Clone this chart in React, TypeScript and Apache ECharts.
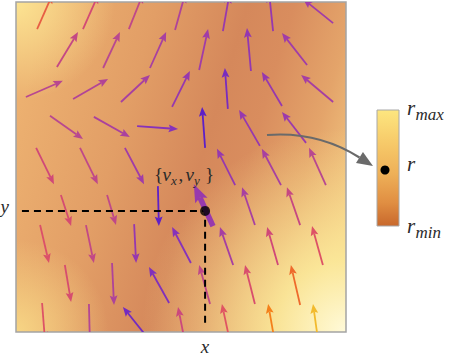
import React, { useEffect, useRef } from 'react';
import * as echarts from 'echarts';

// ---------- data (plot domain 0..10 × 0..10, y up) ----------
// each arrow: [tailX, tailY, headX, headY, magnitude]
const arrowsRowA = [
  [0.64, 9.18, 1.11, 10.24, 0.66],
  [2.03, 9.18, 2.5, 10.24, 0.52],
  [3.42, 9.18, 3.85, 10.25, 0.43],
  [4.82, 9.15, 5.13, 10.26, 0.36],
  [6.27, 9.12, 6.47, 10.25, 0.27],
  [7.79, 9.12, 7.67, 10.27, 0.26],
  [9.61, 9.36, 8.7, 10.09, 0.3],
];
const arrowsRowB = [
  [1.24, 8.03, 1.88, 9.09, 0.45],
  [2.64, 8.0, 3.15, 9.09, 0.4],
  [4.06, 8.0, 4.55, 9.09, 0.33],
  [5.55, 7.94, 5.82, 9.18, 0.3],
  [7.12, 7.91, 7.0, 9.21, 0.25],
  [8.82, 8.09, 8.06, 9.06, 0.3],
];
const arrowsRowC = [
  [0.3, 7.12, 1.42, 7.61, 0.4],
  [1.73, 7.06, 2.79, 7.67, 0.37],
  [3.18, 6.97, 4.06, 7.79, 0.33],
  [4.73, 6.82, 5.27, 7.91, 0.26],
  [6.42, 6.76, 6.33, 8.0, 0.15],
  [8.06, 6.85, 7.45, 7.88, 0.26],
  [9.61, 6.97, 8.64, 7.79, 0.32],
];
const arrowsRowD = [
  [1.03, 6.55, 2.03, 5.85, 0.4],
  [2.36, 6.52, 3.45, 5.91, 0.34],
  [3.67, 6.24, 4.91, 6.15, 0.2],
  [5.73, 5.58, 5.64, 6.82, 0.05],
  [7.39, 5.64, 6.76, 6.73, 0.26],
  [8.79, 5.73, 8.06, 6.67, 0.28],
];
const arrowsRowE = [
  [0.61, 5.58, 1.15, 4.48, 0.5],
  [1.94, 5.58, 2.48, 4.48, 0.43],
  [3.3, 5.58, 3.88, 4.48, 0.3],
  [6.64, 4.45, 6.09, 5.55, 0.26],
  [8.03, 4.45, 7.45, 5.55, 0.33],
  [9.39, 4.45, 8.88, 5.58, 0.4],
];
const arrowsRowF = [
  [1.36, 4.15, 1.67, 3.21, 0.53],
  [2.76, 4.15, 3.03, 3.24, 0.43],
  [4.3, 4.42, 4.33, 3.21, 0.06],
  [7.24, 3.24, 6.85, 4.39, 0.33],
  [8.61, 3.24, 8.21, 4.39, 0.46],
];
const arrowsRowG = [
  [0.73, 3.24, 1.0, 2.09, 0.57],
  [2.12, 3.24, 2.36, 2.09, 0.44],
  [3.58, 3.27, 3.64, 2.09, 0.26],
  [5.3, 2.09, 4.73, 3.18, 0.2],
  [6.58, 2.03, 6.18, 3.18, 0.32],
  [7.94, 2.03, 7.61, 3.18, 0.5],
  [9.3, 2.03, 8.97, 3.21, 0.58],
];
const arrowsRowH = [
  [1.48, 2.03, 1.67, 0.91, 0.54],
  [2.91, 2.09, 2.97, 0.82, 0.36],
  [4.64, 0.88, 4.03, 1.97, 0.18],
  [5.88, 0.85, 5.55, 2.03, 0.43],
  [7.24, 0.85, 6.94, 2.03, 0.55],
  [8.61, 0.82, 8.33, 2.03, 0.72],
];
const arrowsRowI = [
  [0.79, 0.88, 0.88, -0.27, 0.58],
  [2.21, 0.85, 2.24, -0.3, 0.38],
  [3.96, -0.14, 3.24, 0.76, 0.13],
  [5.13, -0.36, 4.91, 0.76, 0.48],
  [6.48, -0.27, 6.24, 0.85, 0.6],
  [7.84, -0.28, 7.64, 0.85, 0.8],
  [9.16, -0.29, 9.0, 0.85, 0.95],
];
const highlightArrow = [[5.97, 3.21, 5.39, 4.48, 0.27]];

const pointX = 5.73;
const pointY = 3.67;
const dashedPath = [
  [0.18, pointY],
  [pointX, pointY],
  [pointX, 0.21],
];

const magnitudeColors = [
  '#4e18cc', '#6a26c4', '#8632ba', '#a03ca8', '#b84890', '#d04878',
  '#e05462', '#ec6430', '#f4801a', '#f2a824', '#f2cc36',
];

const legendSubs = ['max', 'min'];

// ---------- layout ----------
const GL = 16, GT = 2, GW = 330, GH = 330;
const SERIF = 'Liberation Serif, serif';
const TXT = '#2a2a2a';

function arrowRenderer(thick: boolean) {
  return (params: any, api: any) => {
    const p0 = api.coord([api.value(0), api.value(1)]);
    const p1 = api.coord([api.value(2), api.value(3)]);
    const color = api.visual('color');
    const dx = p1[0] - p0[0], dy = p1[1] - p0[1];
    const L = Math.hypot(dx, dy) || 1;
    const ux = dx / L, uy = dy / L;
    const hl = thick ? 18 : 9.5;
    const hw = thick ? 6.8 : 3.9;
    const lw = thick ? 5.5 : 1.8;
    const notch = hl * 0.82;
    const bx = p1[0] - ux * hl, by = p1[1] - uy * hl;
    const nx = p1[0] - ux * notch, ny = p1[1] - uy * notch;
    return {
      type: 'group',
      children: [
        {
          type: 'line',
          shape: { x1: p0[0], y1: p0[1], x2: nx, y2: ny },
          style: { stroke: color, lineWidth: lw },
        },
        {
          type: 'polygon',
          shape: {
            points: [
              [p1[0], p1[1]],
              [bx - uy * hw, by + ux * hw],
              [nx, ny],
              [bx + uy * hw, by - ux * hw],
            ],
          },
          style: { fill: color },
        },
      ],
    };
  };
}

function txt(text: string, x: number, baseline: number, size: number, italic: boolean, align = 'left') {
  return {
    type: 'text',
    z: 100,
    style: {
      text,
      x,
      y: baseline - 0.3375 * size,
      fontFamily: SERIF,
      fontSize: size,
      fontStyle: italic ? 'italic' : 'normal',
      fill: TXT,
      align,
      verticalAlign: 'middle',
    },
  };
}

export default function App() {
  const ref = useRef<HTMLDivElement>(null);
  useEffect(() => {
    if (!ref.current) return;
    const chart = echarts.init(ref.current, undefined, { renderer: 'svg' });
    const allArrows = [
      ...arrowsRowA, ...arrowsRowB, ...arrowsRowC, ...arrowsRowD, ...arrowsRowE,
      ...arrowsRowF, ...arrowsRowG, ...arrowsRowH, ...arrowsRowI,
    ];

    // curved pointer arrow
    const c0 = [267, 135], c1 = [305, 132], c2 = [335, 142], tip = [373, 166];
    const tdx = tip[0] - c2[0], tdy = tip[1] - c2[1];
    const tl = Math.hypot(tdx, tdy);
    const tux = tdx / tl, tuy = tdy / tl;
    const hl = 16, hw = 6.5;
    const hb = [tip[0] - tux * hl, tip[1] - tuy * hl];

    const bgRect = (fill: any) => ({
      type: 'rect',
      z: -100,
      silent: true,
      shape: { x: GL, y: GT, width: GW, height: GH },
      style: { fill },
    });

    chart.setOption({
      animation: false,
      grid: {
        left: GL, top: GT, width: GW, height: GH,
        show: true, borderColor: '#a4a4a4', borderWidth: 1.5,
        backgroundColor: 'transparent',
      },
      xAxis: { type: 'value', min: 0, max: 10, show: false },
      yAxis: { type: 'value', min: 0, max: 10, show: false },
      visualMap: {
        show: false, type: 'continuous', min: 0, max: 1, dimension: 4,
        seriesIndex: [0, 1], inRange: { color: magnitudeColors },
      },
      graphic: [
        bgRect({
          type: 'linear', x: 0, y: 0.35, x2: 1, y2: 0.65,
          colorStops: [
            { offset: 0, color: '#ecb070' },
            { offset: 0.3, color: '#e29e66' },
            { offset: 0.55, color: '#d5885b' },
            { offset: 0.68, color: '#d98d5e' },
            { offset: 0.85, color: '#e4a46a' },
            { offset: 1, color: '#f2c680' },
          ],
        }),
        bgRect({
          type: 'radial', x: 0, y: 0, r: 0.3,
          colorStops: [
            { offset: 0, color: 'rgba(252,228,146,1)' },
            { offset: 1, color: 'rgba(252,228,146,0)' },
          ],
        }),
        bgRect({
          type: 'radial', x: 0, y: 1, r: 0.28,
          colorStops: [
            { offset: 0, color: 'rgba(248,216,134,0.95)' },
            { offset: 1, color: 'rgba(248,216,134,0)' },
          ],
        }),
        bgRect({
          type: 'radial', x: 1, y: 1, r: 0.62,
          colorStops: [
            { offset: 0, color: 'rgba(255,250,218,1)' },
            { offset: 0.35, color: 'rgba(252,236,156,0.85)' },
            { offset: 1, color: 'rgba(248,220,140,0)' },
          ],
        }),
        // legend bar
        {
          type: 'rect', z: 50,
          shape: { x: 377, y: 110, width: 22, height: 116 },
          style: {
            stroke: '#a8a8a8', lineWidth: 1,
            fill: {
              type: 'linear', x: 0, y: 0, x2: 0, y2: 1,
              colorStops: [
                { offset: 0, color: '#fde67f' },
                { offset: 0.3, color: '#f6c868' },
                { offset: 0.55, color: '#eeb058' },
                { offset: 0.8, color: '#e08e42' },
                { offset: 1, color: '#c8682c' },
              ],
            },
          },
        },
        { type: 'circle', z: 60, shape: { cx: 385, cy: 170, r: 4.5 }, style: { fill: '#000' } },
        txt('r', 407, 115, 21, true),
        txt(legendSubs[0], 415.6, 120, 17, true),
        txt('r', 407, 171, 21, true),
        txt('r', 407, 233, 21, true),
        txt(legendSubs[1], 415.6, 238, 17, true),
        // curved pointer
        {
          type: 'bezierCurve', z: 90,
          shape: { x1: c0[0], y1: c0[1], cpx1: c1[0], cpy1: c1[1], cpx2: c2[0], cpy2: c2[1], x2: hb[0], y2: hb[1] },
          style: { stroke: '#6a6a6a', lineWidth: 2.2, fill: 'none' },
        },
        {
          type: 'polygon', z: 90,
          shape: {
            points: [
              tip,
              [hb[0] - tuy * hw, hb[1] + tux * hw],
              [hb[0] + tuy * hw, hb[1] - tux * hw],
            ],
          },
          style: { fill: '#6a6a6a' },
        },
        // point label {v_x, v_y}
        txt('{', 154, 181, 19, false),
        txt('v', 162.5, 181, 19, true),
        txt('x', 171, 185, 13, true),
        txt(',', 178.5, 181, 19, false),
        txt('v', 185.5, 181, 19, true),
        txt('y', 194, 185, 13, true),
        txt('}', 205, 181, 19, false),
        // axis labels
        txt('y', 9, 213, 19, true, 'right'),
        txt('x', 205, 353, 19, true, 'center'),
      ],
      series: [
        {
          type: 'custom', coordinateSystem: 'cartesian2d', clip: true, z: 3,
          renderItem: arrowRenderer(false), data: allArrows, silent: true,
        },
        {
          type: 'custom', coordinateSystem: 'cartesian2d', clip: true, z: 6,
          renderItem: arrowRenderer(true), data: highlightArrow, silent: true,
        },
        {
          type: 'line', z: 5, data: dashedPath, symbol: 'none', silent: true,
          lineStyle: { color: '#000', width: 2, type: [7, 5] },
        },
        {
          type: 'scatter', z: 8, data: [[pointX, pointY]], symbol: 'circle', symbolSize: 10,
          itemStyle: { color: '#000' }, silent: true,
        },
      ],
    });
    return () => chart.dispose();
  }, []);
  return (
    <div
      ref={ref}
      style={{ position: 'fixed', left: 0, top: 0, width: 460, height: 364, background: '#fff' }}
    />
  );
}
